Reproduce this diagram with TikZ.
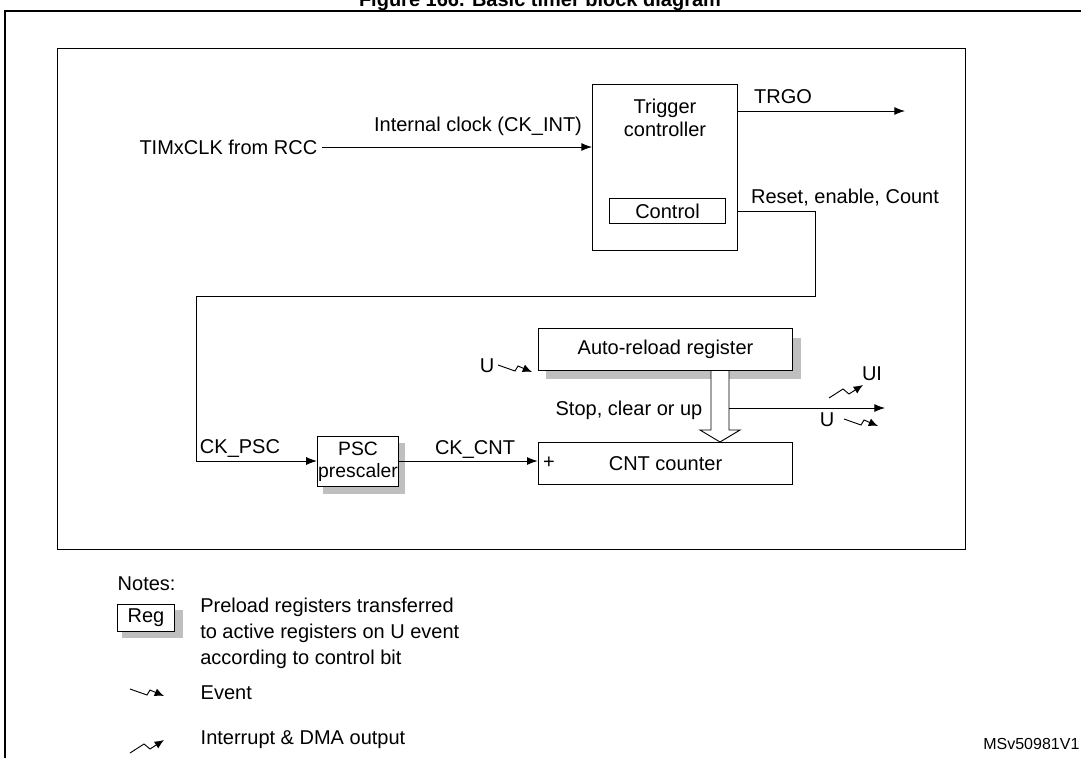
\documentclass[tikz,border=0pt]{standalone}
\usepackage{fontspec}
\setmainfont{Liberation Sans}
\usetikzlibrary{arrows.meta}
\begin{document}
\begin{tikzpicture}[x=0.75pt,y=-0.75pt,
  every node/.style={font=\fontsize{15}{17}\selectfont},
  box/.style={draw,line width=0.7pt,fill=white},
  ln/.style={line width=0.7pt},
  arr/.style={ln,-{Latex[length=8pt,width=6pt]}},
  shadow/.style={fill=black!25,draw=none}]
\useasboundingbox (0,0) rectangle (1081,757);
\node[font=\bfseries\fontsize{15}{17}\selectfont,inner sep=0] (title) at (540,1) {Figure 166. Basic timer block diagram};
\draw[line width=1.6pt] (5,11) rectangle (1095,775);
\draw[ln] (57,48) rectangle (965,549);
% trigger controller
\node[box,minimum width=108.75pt,minimum height=124.5pt,inner sep=0] (trig) at (664.5,167) {};
\node[align=center] (trigtxt) at (665,118) {Trigger\\controller};
\node[box,minimum width=87pt,minimum height=19pt,inner sep=0] (ctrl) at (667.5,211) {Control};
\node[anchor=east] (timx) at (322,147) {TIMxCLK from RCC};
\coordinate (trigin) at (592,147);
\draw[arr] (timx.east) -- (trigin);
\node (ckint) at (478,126) {Internal clock (CK\_INT)};
\coordinate (trgoA) at (737,111);
\coordinate (trgoB) at (905,111);
\draw[arr] (trgoA) -- (trgoB);
\node (trgo) at (783,97) {TRGO};
\node (rec) at (845,198) {Reset, enable, Count};
% PSC
\fill[shadow] (323,443) rectangle (405,494);
\node[box,minimum width=61pt,minimum height=37pt,align=center,inner sep=0,font=\fontsize{14.5}{16.5}\selectfont] (psc) at (358,461.5) {PSC\\prescaler};
\coordinate (cA) at (737,211);
\draw[arr] (cA) -- (815,211) -- (815,296) -- (196,296) -- (196,461) -- (psc.west |- 0,461);
\node (ckpsc) at (240,448) {CK\_PSC};
% CNT
\node[box,minimum width=191pt,minimum height=31pt,inner sep=0] (cnt) at (665.5,463.5) {CNT counter};
\node (plus) at (549,463) {+};
\draw[arr] (psc.east |- 0,461) -- (cnt.west |- 0,461);
\node (ckcnt) at (475,449) {CK\_CNT};
% ARR
\fill[shadow] (546,338) rectangle (801,379);
\node[box,minimum width=191pt,minimum height=31pt,inner sep=0] (arr) at (665.5,349.5) {Auto-reload register};
% hollow arrow
\draw[ln,fill=white] (711,371) -- (711,430) -- (700,430) -- (720,442) -- (740,430) -- (729,430) -- (729,371);
\node (stop) at (629,410) {Stop, clear or up};
\coordinate (uA) at (729,408);
\coordinate (uB) at (885,408);
\draw[arr] (uA) -- (uB);
\node (ui) at (872,374) {UI};
\node (u2) at (827,420) {U};
\node (u1) at (487,366) {U};
% event symbols
\tikzset{event/.pic={\draw[ln,-{Latex[length=7pt,width=6pt]}] (0,0) -- (17,6) -- (20,1) -- (34,7);},
  intr/.pic={\draw[ln,-{Latex[length=7pt,width=6pt]}] (0,9) -- (14,0) -- (20,5) -- (34,-4);}}
\pic at (498,365) {event};
\pic at (844,419) {event};
\pic at (829,389) {intr};
% notes
\node[anchor=west] (notes) at (113,584) {Notes:};
\fill[shadow] (122,610) rectangle (183,638);
\node[box,minimum width=43pt,minimum height=20pt,inner sep=0] (reg) at (146,618) {Reg};
\node[anchor=north west,align=left,inner sep=0,font=\fontsize{15}{19.5}\selectfont] (pre) at (200,598) {Preload registers transferred\\to active registers on U event\\according to control bit};
\pic at (130,689) {event};
\node[anchor=west] (ev) at (196,693) {Event};
\pic at (130,744) {intr};
\node[anchor=west] (ir) at (196,740) {Interrupt \& DMA output};
\node[anchor=east,font=\fontsize{12}{14}\selectfont,inner sep=1pt] (ms) at (1081,744) {MSv50981V1};
\end{tikzpicture}
\end{document}
